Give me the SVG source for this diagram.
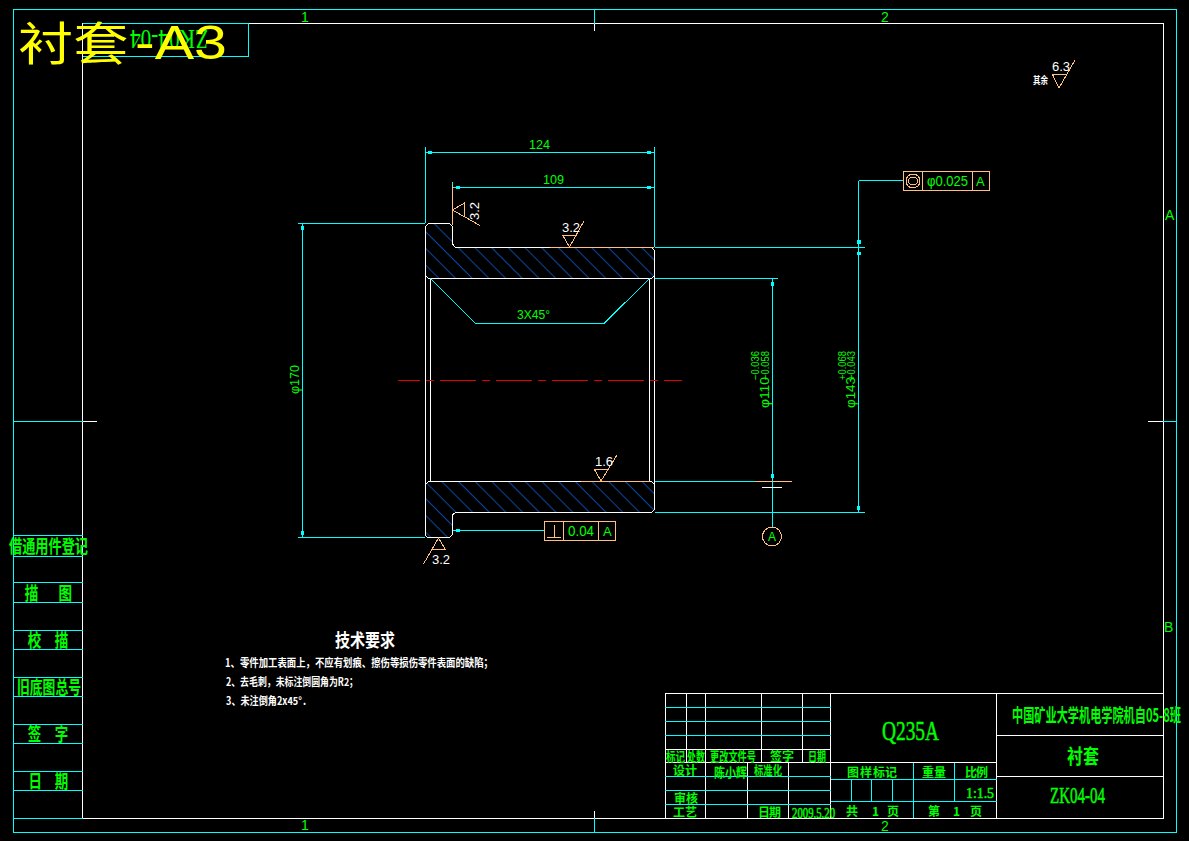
<svg xmlns="http://www.w3.org/2000/svg" width="1189" height="841" viewBox="0 0 1189 841">
<style>
.c{stroke:#00ffff;fill:none;stroke-width:1;shape-rendering:crispEdges}
.w{stroke:#fff;fill:none;stroke-width:1;shape-rendering:crispEdges}
.o{stroke:#ffbf7f;fill:none;stroke-width:1;shape-rendering:crispEdges}
.h{fill:#00ffff}
text{font-family:"Liberation Sans","Noto Sans CJK SC",sans-serif}
.g{fill:#00ff00;font-size:12px}
.s{fill:#00ff00;stroke:#00ff00;stroke-width:.5;font-family:"Liberation Serif","Noto Sans CJK SC",serif;font-size:14px}
.z{fill:#00ff00;font-family:"Noto Sans CJK SC",sans-serif;font-size:15px;font-weight:700}
.t{fill:#fff;font-family:"Noto Sans CJK SC",sans-serif;font-size:11px;font-weight:700}
.r{fill:#fff;font-size:13px}
</style>
<defs>
<pattern id="hatch" width="11.800" height="11.800" patternUnits="userSpaceOnUse" patternTransform="rotate(45)">
<rect width="11.800" height="1" fill="#0a47a0" transform="translate(0,4)"/>
</pattern>
</defs>
<rect width="1189" height="841" fill="#000"/>
<g id="frame">
<rect class="c" x="13.5" y="9.5" width="1162.500" height="822.500"/>
<rect class="w" x="82.500" y="23.500" width="1080.500" height="794.500"/>
<path class="c" d="M594.500 9.500V23.500M594.500 818V832M13.500 421.500H82.500M1163 421.500H1176"/>
<path class="w" d="M594.500 23.500V31M594.500 811V818M82.500 421.500H97M1148 421.500H1163"/>
<text class="g" x="301" y="22" style="font-size:14px">1</text>
<text class="g" x="881" y="22" style="font-size:14px">2</text>
<text class="g" x="301" y="830" style="font-size:14px">1</text>
<text class="g" x="881" y="831" style="font-size:14px">2</text>
<text class="g" x="1165" y="220" style="font-size:14px">A</text>
<text class="g" x="1164" y="632" style="font-size:14px">B</text>
</g>
<g id="corner-label">
<path class="c" d="M82.500 23.500H248.500V56.500H82.500"/>
<text class="s" transform="translate(208,30) rotate(180)" textLength="78" lengthAdjust="spacingAndGlyphs" style="font-size:27px;stroke-width:0">ZK04-04</text>
<text transform="translate(18,60) scale(1.2,1)" style="font-size:46px" fill="#ffff00">衬套</text>
<text x="135" y="59" textLength="92" lengthAdjust="spacingAndGlyphs" style="font-size:48px" fill="#ffff00">-A3</text>
</g>
<g id="side-table">
<path class="c" d="M13.500 535.500H82.500M13.500 556.500H82.500M13.500 582.500H82.500M13.500 602.500H82.500M13.500 630.500H82.500M13.500 649.500H82.500M13.500 677.500H82.500M13.500 696.500H82.500M13.500 724.500H82.500M13.500 743.500H82.500M13.500 771.500H82.500M13.500 790.500H82.500M13.500 818H82.500"/>
<text class="z" x="9" y="553" textLength="79" lengthAdjust="spacingAndGlyphs" style="font-size:18px">借通用件登记</text>
<text class="z" transform="scale(.75,1)" x="33 78" y="600" style="font-size:18px">描图</text>
<text class="z" transform="scale(.75,1)" x="37 73" y="647" style="font-size:18px">校描</text>
<text class="z" x="17" y="694" textLength="64" lengthAdjust="spacingAndGlyphs" style="font-size:18px">旧底图总号</text>
<text class="z" transform="scale(.75,1)" x="37 73" y="741" style="font-size:18px">签字</text>
<text class="z" transform="scale(.75,1)" x="38 73" y="788" style="font-size:18px">日期</text>
</g>
<g id="title-block">
<path class="w" d="M665 693.500H1163M665 693.500V818M686.500 693.500V762.500M705.500 693.500V818M761.500 693.500V762.500M802.500 693.500V762.500M830.500 693.500V818M996.500 693.500V818M665 749.500H830.500M665 762.500H996.500M747.500 762.500V818M788.500 762.500V818M996.500 735.500H1163M996.500 776.500H1163"/>
<path class="c" d="M665 707.500H830.500M665 721.500H830.500M665 735.500H830.500M665 776.500H830.500M665 790.500H830.500M665 804.500H830.500M830.500 779.500H996.500M830.500 801.500H996.500M851.500 779.500V801.500M871.500 779.500V801.500M892.500 779.500V801.500M913.500 762.500V818M954.500 762.500V801.500"/>
<text class="z" x="666" y="761" textLength="19" lengthAdjust="spacingAndGlyphs" style="font-size:13px">标记</text>
<text class="z" x="687" y="761" textLength="18" lengthAdjust="spacingAndGlyphs" style="font-size:13px">处数</text>
<text class="z" x="710" y="761" textLength="46" lengthAdjust="spacingAndGlyphs" style="font-size:13px">更改文件号</text>
<text class="z" x="770 782" y="761" style="font-size:12px">签字</text>
<text class="z" x="808" y="761" textLength="18" lengthAdjust="spacingAndGlyphs" style="font-size:13px">日期</text>
<text class="z" x="673 685" y="775" style="font-size:12px">设计</text>
<text class="z" x="714" y="777" textLength="33" lengthAdjust="spacingAndGlyphs" style="font-size:13px">陈小辉</text>
<text class="z" x="754" y="775" textLength="28" lengthAdjust="spacingAndGlyphs" style="font-size:13px">标准化</text>
<text class="z" x="674 686" y="803" style="font-size:12px">审核</text>
<text class="z" x="673 685" y="817" style="font-size:12px">工艺</text>
<text class="z" x="758 769" y="817" style="font-size:12px">日期</text>
<text class="s" x="792" y="818" textLength="43" lengthAdjust="spacingAndGlyphs" style="font-size:14px">2009.5.20</text>
<text class="s" x="882" y="740" textLength="57" lengthAdjust="spacingAndGlyphs" style="font-size:28px">Q235A</text>
<text class="z" x="847 860 873 885" y="777" style="font-size:12px">图样标记</text>
<text class="z" x="922 934" y="777" style="font-size:12px">重量</text>
<text class="z" x="965 976" y="777" style="font-size:12px">比例</text>
<text class="s" x="966" y="798" textLength="28" lengthAdjust="spacingAndGlyphs" style="font-size:15px">1:1.5</text>
<text class="z" x="846 872 887" y="816" style="font-size:12px">共1页</text>
<text class="z" x="928 953 970" y="816" style="font-size:12px">第1页</text>
<text class="z" x="1012" y="722" textLength="169" lengthAdjust="spacingAndGlyphs" style="font-size:18px">中国矿业大学机电学院机自05-8班</text>
<text class="z" x="1067" y="764" textLength="32" lengthAdjust="spacingAndGlyphs" style="font-size:20px">衬套</text>
<text class="s" x="1050" y="803" textLength="55" lengthAdjust="spacingAndGlyphs" style="font-size:23px">ZK04-04</text>
</g>
<g id="tech-notes">
<text class="t" x="335" y="647" textLength="60" lengthAdjust="spacingAndGlyphs" style="font-size:18px">技术要求</text>
<text class="t" x="225" y="667" textLength="268" lengthAdjust="spacingAndGlyphs">1、零件加工表面上，不应有划痕、擦伤等损伤零件表面的缺陷；</text>
<text class="t" x="226" y="686" textLength="132" lengthAdjust="spacingAndGlyphs">2、去毛刺，未标注倒圆角为R2；</text>
<text class="t" x="226" y="705" textLength="85" lengthAdjust="spacingAndGlyphs">3、未注倒角2x45°．</text>
</g>
<g id="bushing-section">
<path fill="url(#hatch)" d="M428.500 223.500H449.500L452.500 226.500V244L455.500 247.500H651.500L654.500 250.500V275.500L651.500 278.500H428.500L425.500 275.500V226.500Z"/>
<path fill="url(#hatch)" d="M428.500 481.500H651.500L654.500 484.500V509.500L651.500 512.500H457Q452.500 512.500 452.500 517V534.500L449.500 537.500H429Q425.500 537.500 425.500 534V484.500Z"/>
<path class="w" d="M425.500 275.500V226.500L428.500 223.500H449.500L452.500 226.500V244L455.500 247.500H651.500L654.500 250.500V275.500L651.500 278.500H428.500L425.500 275.500M654.500 275.500V484.500M425.500 275.500V484.500M430.500 278.500V481.500M649.500 278.500V481.500M425.500 484.500L428.500 481.500H651.500L654.500 484.500V509.500L651.500 512.500H457Q452.500 512.500 452.500 517V534.500L449.500 537.500H429Q425.500 537.500 425.500 534V484.500"/>
<path class="c" d="M430.500 278.500L475 323H604.500L649.500 278.500"/>
<text class="g" x="517" y="319" textLength="33" lengthAdjust="spacingAndGlyphs">3X45°</text>
</g>
<g id="centre-line">
<path d="M398 380.500H682" stroke="#e00000" stroke-width="1" stroke-dasharray="36 6 8 6" stroke-dashoffset="14" fill="none" shape-rendering="crispEdges"/>
</g>
<g id="connectors">
<path class="c" d="M425.500 147V223M654.500 147V247M452.500 182V186M425.500 152.500H654.500M452.500 187.500H654.500"/>
<path class="c" d="M298 223.500H425M298 537.500H425M302.500 223.500V537.500"/>
<path class="c" d="M654.500 247.500H865M654.500 278.500H778M654.500 481.500H755M654.500 512.500H865M772.500 278.500V527M858.500 180.500V512.500M858.500 180.500H903.500M452.500 530.500H544.500"/>
<path class="o" d="M755 481.500H792M452.500 185V225M550 247.500H654M581 481.500H650"/>
<path class="w" d="M762 487.500H782"/>
<g class="h">
<rect x="428" y="151" width="4" height="3"/><rect x="647" y="151" width="4" height="3"/>
<rect x="456" y="186" width="4" height="3"/><rect x="647" y="186" width="4" height="3"/>
<rect x="301" y="226" width="3" height="4"/><rect x="301" y="531" width="3" height="4"/>
<rect x="771" y="282" width="3" height="4"/><rect x="771" y="474" width="3" height="4"/>
<rect x="857" y="240" width="4" height="4"/><rect x="857" y="252" width="4" height="3"/><rect x="857" y="506" width="3" height="4"/>
<rect x="456" y="529" width="4" height="3"/>
</g>
</g>
<g id="dimensions">
<text class="g" x="529" y="149" textLength="21" lengthAdjust="spacingAndGlyphs">124</text>
<text class="g" x="543" y="184" textLength="21" lengthAdjust="spacingAndGlyphs">109</text>
<text class="g" transform="translate(299,394) rotate(-90)" textLength="29" lengthAdjust="spacingAndGlyphs">φ170</text>
<text class="g" transform="translate(769,408) rotate(-90)" textLength="31" lengthAdjust="spacingAndGlyphs">φ110</text>
<text class="g" transform="translate(759,380) rotate(-90)" textLength="29" lengthAdjust="spacingAndGlyphs" style="font-size:10px">−0.036</text>
<text class="g" transform="translate(769,380) rotate(-90)" textLength="29" lengthAdjust="spacingAndGlyphs" style="font-size:10px">−0.058</text>
<text class="g" transform="translate(855,408) rotate(-90)" textLength="31" lengthAdjust="spacingAndGlyphs">φ143</text>
<text class="g" transform="translate(846,380) rotate(-90)" textLength="29" lengthAdjust="spacingAndGlyphs" style="font-size:10px">+0.068</text>
<text class="g" transform="translate(855,380) rotate(-90)" textLength="29" lengthAdjust="spacingAndGlyphs" style="font-size:10px">+0.043</text>
</g>
<g id="tolerance-concentricity">
<path class="o" d="M903.500 171.500H989.500V190.500H903.500ZM922.500 171.500V190.500M972.500 171.500V190.500"/>
<circle class="o" cx="913" cy="181" r="7"/><ellipse class="o" cx="913" cy="181" rx="4.500" ry="4"/>
<text class="g" x="927" y="186" textLength="41" lengthAdjust="spacingAndGlyphs" style="font-size:14px">φ0.025</text>
<text class="g" x="976" y="186" style="font-size:13px">A</text>
</g>
<g id="tolerance-perpendicular">
<path class="o" d="M544.500 521.500H615.500V540.500H544.500ZM563.500 521.500V540.500M598.500 521.500V540.500M547 537H561M554 525V537"/>
<text class="g" x="568" y="536" textLength="26" lengthAdjust="spacingAndGlyphs" style="font-size:14px">0.04</text>
<text class="g" x="603" y="536" style="font-size:13px">A</text>
</g>
<g id="datum-a">
<circle class="o" cx="772" cy="536.500" r="9.500"/>
<text class="g" x="768" y="541">A</text>
</g>
<g id="roughness-left">
<path class="o" d="M480 225.500L452.500 210L464.500 203V217"/>
<text class="r" transform="translate(479,220) rotate(-90)">3.2</text>
</g>
<g id="roughness-top">
<path class="o" d="M562.500 235H577M562.500 235L569.500 247L584 221"/>
<text class="r" x="562" y="232">3.2</text>
</g>
<g id="roughness-bore">
<path class="o" d="M594.500 469.500H609M594.500 469.500L601 481L617 455"/>
<text class="r" x="595" y="466">1.6</text>
</g>
<g id="roughness-bottom">
<path class="o" d="M431.500 549.500H445.500L438.500 538L423.500 564"/>
<text class="r" x="432" y="564">3.2</text>
</g>
<g id="roughness-other">
<path class="o" d="M1052.500 74.500H1066M1052.500 74.500L1059 88L1075 60"/>
<text class="r" x="1052" y="71">6.3</text>
<text class="t" x="1033" y="84" textLength="15" lengthAdjust="spacingAndGlyphs" style="font-size:10px">其余</text>
</g>
</svg>
